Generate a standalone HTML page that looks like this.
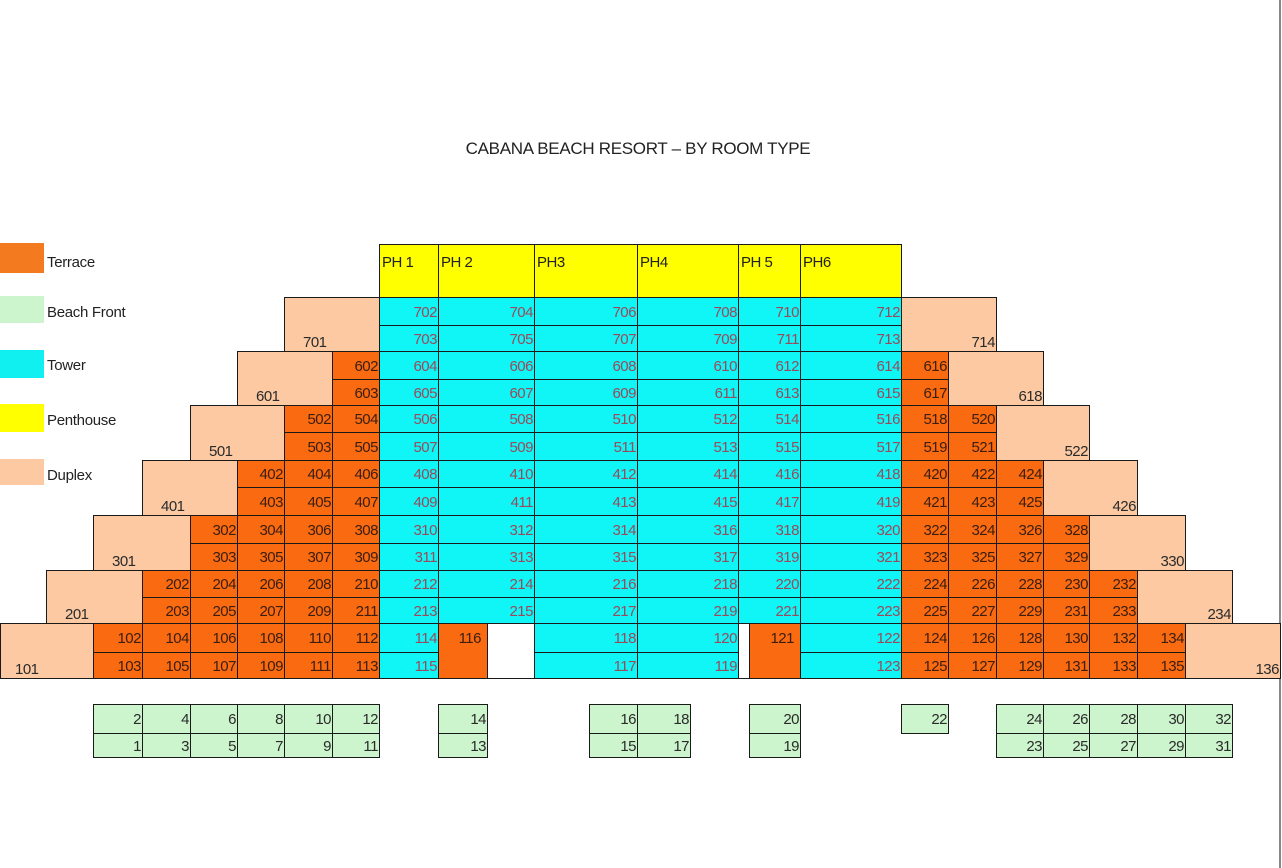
<!DOCTYPE html>
<html><head><meta charset="utf-8">
<style>
body{margin:0;width:1282px;height:868px;background:#fff;position:relative;overflow:hidden;font-family:"Liberation Sans",Arial,sans-serif;}
i{position:absolute;box-sizing:border-box;border:1px solid #1a1a1a;font-style:normal;font-size:15px;text-align:right;padding-right:1px;letter-spacing:-0.5px;white-space:nowrap;overflow:hidden}
.t{background:#fa6a10;color:#3a1e10}
.y{background:#10f5f5;color:#9a4a5a}
.d{background:#fcc9a2;color:#2a2a2a;display:flex;align-items:flex-end;padding-bottom:0;line-height:17px}
.dl{justify-content:flex-start;padding-left:18px}
.dr{justify-content:flex-end}
.b{background:#cdf5cd;color:#2a2a2a}
.p{background:#ffff00;color:#222;text-align:left;padding-left:2px;line-height:36px}
.w{background:#fff}
.r7a{top:297px;height:29px;line-height:29px}.r7b{top:325px;height:27px;line-height:27px}
.r6a{top:351px;height:29px;line-height:29px}.r6b{top:379px;height:27px;line-height:27px}
.r5a{top:405px;height:28px;line-height:28px}.r5b{top:432px;height:29px;line-height:29px}
.r4a{top:460px;height:28px;line-height:28px}.r4b{top:487px;height:29px;line-height:29px}
.r3a{top:515px;height:29px;line-height:29px}.r3b{top:543px;height:28px;line-height:28px}
.r2a{top:570px;height:28px;line-height:28px}.r2b{top:597px;height:27px;line-height:27px}
.r1a{top:623px;height:30px;line-height:30px}.r1b{top:652px;height:27px;line-height:27px}
.ba{top:704px;height:30px;line-height:30px}.bb{top:733px;height:25px;line-height:25px}
.l1{left:93px;width:50px}.l2{left:142px;width:49px}.l3{left:190px;width:48px}.l4{left:237px;width:48px}.l5{left:284px;width:49px}.l6{left:332px;width:48px}
.c1{left:379px;width:60px}.c2{left:438px;width:97px}.c3{left:534px;width:104px}.c4{left:637px;width:102px}.c5{left:738px;width:63px}.c6{left:800px;width:102px}
.q1{left:901px;width:48px}.q2{left:948px;width:49px}.q3{left:996px;width:48px}.q4{left:1043px;width:47px}.q5{left:1089px;width:49px}.q6{left:1137px;width:49px}.q7{left:1185px;width:48px}
.sw{position:absolute;left:0;width:44px}
.lg{position:absolute;left:47px;font-size:15px;color:#222;letter-spacing:-0.3px}
</style></head><body>
<div style="position:absolute;left:0;width:1276px;top:139px;text-align:center;font-size:17px;color:#222;letter-spacing:-0.3px">CABANA BEACH RESORT – BY ROOM TYPE</div>
<div style="position:absolute;left:1279px;top:0;width:2px;height:868px;background:#888"></div>

<div class="sw" style="top:243px;height:30px;background:#f47a20"></div><div class="lg" style="top:254px">Terrace</div>
<div class="sw" style="top:296px;height:27px;background:#cdf5cd"></div><div class="lg" style="top:304px">Beach Front</div>
<div class="sw" style="top:350px;height:28px;background:#10f0f0"></div><div class="lg" style="top:357px">Tower</div>
<div class="sw" style="top:404px;height:28px;background:#ffff00"></div><div class="lg" style="top:412px">Penthouse</div>
<div class="sw" style="top:459px;height:26px;background:#fcc9a2"></div><div class="lg" style="top:467px">Duplex</div>

<i class="p c1" style="top:244px;height:54px">PH 1</i>
<i class="p c2" style="top:244px;height:54px">PH 2</i>
<i class="p c3" style="top:244px;height:54px">PH3</i>
<i class="p c4" style="top:244px;height:54px">PH4</i>
<i class="p c5" style="top:244px;height:54px">PH 5</i>
<i class="p c6" style="top:244px;height:54px">PH6</i>

<i class="d dl" style="left:0;width:94px;top:623px;height:56px;padding-left:14px">101</i>
<i class="d dl" style="left:46px;width:97px;top:570px;height:54px">201</i>
<i class="d dl" style="left:93px;width:98px;top:515px;height:56px">301</i>
<i class="d dl" style="left:142px;width:96px;top:460px;height:56px">401</i>
<i class="d dl" style="left:190px;width:95px;top:405px;height:56px">501</i>
<i class="d dl" style="left:237px;width:96px;top:351px;height:55px">601</i>
<i class="d dl" style="left:284px;width:96px;top:297px;height:55px">701</i>
<i class="d dr" style="left:901px;width:96px;top:297px;height:55px">714</i>
<i class="d dr" style="left:948px;width:96px;top:351px;height:55px">618</i>
<i class="d dr" style="left:996px;width:94px;top:405px;height:56px">522</i>
<i class="d dr" style="left:1043px;width:95px;top:460px;height:56px">426</i>
<i class="d dr" style="left:1089px;width:97px;top:515px;height:56px">330</i>
<i class="d dr" style="left:1137px;width:96px;top:570px;height:54px">234</i>
<i class="d dr" style="left:1185px;width:96px;top:623px;height:56px">136</i>

<i class="t l6 r6a">602</i><i class="t l6 r6b">603</i>
<i class="t l5 r5a">502</i><i class="t l6 r5a">504</i><i class="t l5 r5b">503</i><i class="t l6 r5b">505</i>
<i class="t l4 r4a">402</i><i class="t l5 r4a">404</i><i class="t l6 r4a">406</i>
<i class="t l4 r4b">403</i><i class="t l5 r4b">405</i><i class="t l6 r4b">407</i>
<i class="t l3 r3a">302</i><i class="t l4 r3a">304</i><i class="t l5 r3a">306</i><i class="t l6 r3a">308</i>
<i class="t l3 r3b">303</i><i class="t l4 r3b">305</i><i class="t l5 r3b">307</i><i class="t l6 r3b">309</i>
<i class="t l2 r2a">202</i><i class="t l3 r2a">204</i><i class="t l4 r2a">206</i><i class="t l5 r2a">208</i><i class="t l6 r2a">210</i>
<i class="t l2 r2b">203</i><i class="t l3 r2b">205</i><i class="t l4 r2b">207</i><i class="t l5 r2b">209</i><i class="t l6 r2b">211</i>
<i class="t l1 r1a">102</i><i class="t l2 r1a">104</i><i class="t l3 r1a">106</i><i class="t l4 r1a">108</i><i class="t l5 r1a">110</i><i class="t l6 r1a">112</i>
<i class="t l1 r1b">103</i><i class="t l2 r1b">105</i><i class="t l3 r1b">107</i><i class="t l4 r1b">109</i><i class="t l5 r1b">111</i><i class="t l6 r1b">113</i>

<i class="y c1 r7a">702</i><i class="y c2 r7a">704</i><i class="y c3 r7a">706</i><i class="y c4 r7a">708</i><i class="y c5 r7a">710</i><i class="y c6 r7a">712</i>
<i class="y c1 r7b">703</i><i class="y c2 r7b">705</i><i class="y c3 r7b">707</i><i class="y c4 r7b">709</i><i class="y c5 r7b">711</i><i class="y c6 r7b">713</i>
<i class="y c1 r6a">604</i><i class="y c2 r6a">606</i><i class="y c3 r6a">608</i><i class="y c4 r6a">610</i><i class="y c5 r6a">612</i><i class="y c6 r6a">614</i>
<i class="y c1 r6b">605</i><i class="y c2 r6b">607</i><i class="y c3 r6b">609</i><i class="y c4 r6b">611</i><i class="y c5 r6b">613</i><i class="y c6 r6b">615</i>
<i class="y c1 r5a">506</i><i class="y c2 r5a">508</i><i class="y c3 r5a">510</i><i class="y c4 r5a">512</i><i class="y c5 r5a">514</i><i class="y c6 r5a">516</i>
<i class="y c1 r5b">507</i><i class="y c2 r5b">509</i><i class="y c3 r5b">511</i><i class="y c4 r5b">513</i><i class="y c5 r5b">515</i><i class="y c6 r5b">517</i>
<i class="y c1 r4a">408</i><i class="y c2 r4a">410</i><i class="y c3 r4a">412</i><i class="y c4 r4a">414</i><i class="y c5 r4a">416</i><i class="y c6 r4a">418</i>
<i class="y c1 r4b">409</i><i class="y c2 r4b">411</i><i class="y c3 r4b">413</i><i class="y c4 r4b">415</i><i class="y c5 r4b">417</i><i class="y c6 r4b">419</i>
<i class="y c1 r3a">310</i><i class="y c2 r3a">312</i><i class="y c3 r3a">314</i><i class="y c4 r3a">316</i><i class="y c5 r3a">318</i><i class="y c6 r3a">320</i>
<i class="y c1 r3b">311</i><i class="y c2 r3b">313</i><i class="y c3 r3b">315</i><i class="y c4 r3b">317</i><i class="y c5 r3b">319</i><i class="y c6 r3b">321</i>
<i class="y c1 r2a">212</i><i class="y c2 r2a">214</i><i class="y c3 r2a">216</i><i class="y c4 r2a">218</i><i class="y c5 r2a">220</i><i class="y c6 r2a">222</i>
<i class="y c1 r2b">213</i><i class="y c2 r2b">215</i><i class="y c3 r2b">217</i><i class="y c4 r2b">219</i><i class="y c5 r2b">221</i><i class="y c6 r2b">223</i>
<i class="y c1 r1a">114</i><i class="y c1 r1b">115</i>
<i class="t" style="left:438px;width:50px;top:623px;height:56px;line-height:30px;padding-right:6px">116</i>
<i class="w" style="left:487px;width:48px;top:623px;height:56px"></i>
<i class="y c3 r1a">118</i><i class="y c3 r1b">117</i>
<i class="y c4 r1a">120</i><i class="y c4 r1b">119</i>
<i class="w" style="left:738px;width:12px;top:623px;height:56px"></i>
<i class="t" style="left:749px;width:52px;top:623px;height:56px;line-height:30px;padding-right:6px">121</i>
<i class="y c6 r1a">122</i><i class="y c6 r1b">123</i>

<i class="t q1 r6a">616</i><i class="t q1 r6b">617</i>
<i class="t q1 r5a">518</i><i class="t q2 r5a">520</i><i class="t q1 r5b">519</i><i class="t q2 r5b">521</i>
<i class="t q1 r4a">420</i><i class="t q2 r4a">422</i><i class="t q3 r4a">424</i>
<i class="t q1 r4b">421</i><i class="t q2 r4b">423</i><i class="t q3 r4b">425</i>
<i class="t q1 r3a">322</i><i class="t q2 r3a">324</i><i class="t q3 r3a">326</i><i class="t q4 r3a">328</i>
<i class="t q1 r3b">323</i><i class="t q2 r3b">325</i><i class="t q3 r3b">327</i><i class="t q4 r3b">329</i>
<i class="t q1 r2a">224</i><i class="t q2 r2a">226</i><i class="t q3 r2a">228</i><i class="t q4 r2a">230</i><i class="t q5 r2a">232</i>
<i class="t q1 r2b">225</i><i class="t q2 r2b">227</i><i class="t q3 r2b">229</i><i class="t q4 r2b">231</i><i class="t q5 r2b">233</i>
<i class="t q1 r1a">124</i><i class="t q2 r1a">126</i><i class="t q3 r1a">128</i><i class="t q4 r1a">130</i><i class="t q5 r1a">132</i><i class="t q6 r1a">134</i>
<i class="t q1 r1b">125</i><i class="t q2 r1b">127</i><i class="t q3 r1b">129</i><i class="t q4 r1b">131</i><i class="t q5 r1b">133</i><i class="t q6 r1b">135</i>

<i class="b l1 ba">2</i><i class="b l2 ba">4</i><i class="b l3 ba">6</i><i class="b l4 ba">8</i><i class="b l5 ba">10</i><i class="b l6 ba">12</i>
<i class="b l1 bb">1</i><i class="b l2 bb">3</i><i class="b l3 bb">5</i><i class="b l4 bb">7</i><i class="b l5 bb">9</i><i class="b l6 bb">11</i>
<i class="b ba" style="left:438px;width:50px">14</i><i class="b bb" style="left:438px;width:50px">13</i>
<i class="b ba" style="left:589px;width:49px">16</i><i class="b bb" style="left:589px;width:49px">15</i>
<i class="b ba" style="left:637px;width:54px">18</i><i class="b bb" style="left:637px;width:54px">17</i>
<i class="b ba" style="left:749px;width:52px">20</i><i class="b bb" style="left:749px;width:52px">19</i>
<i class="b q1 ba">22</i>
<i class="b q3 ba">24</i><i class="b q4 ba">26</i><i class="b q5 ba">28</i><i class="b q6 ba">30</i><i class="b q7 ba">32</i>
<i class="b q3 bb">23</i><i class="b q4 bb">25</i><i class="b q5 bb">27</i><i class="b q6 bb">29</i><i class="b q7 bb">31</i>
</body></html>
